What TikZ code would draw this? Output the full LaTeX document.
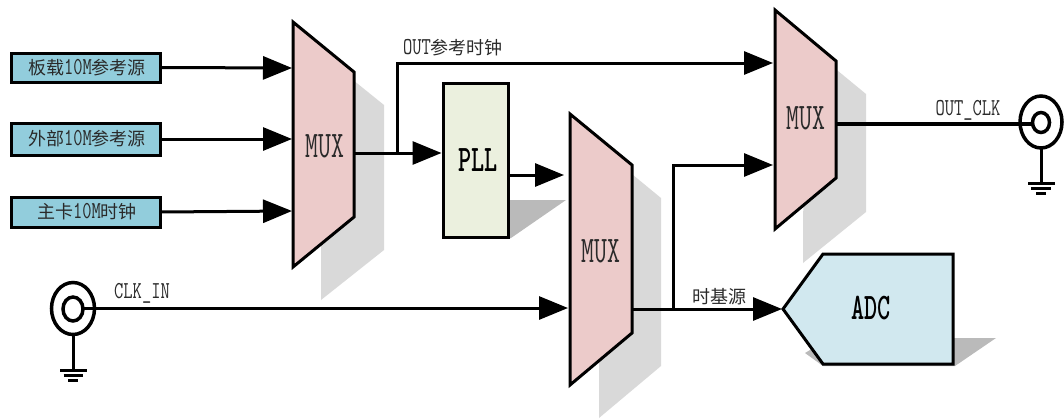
\documentclass[tikz,border=0pt]{standalone}
\usepackage{graphicx}
\usepackage{fontspec}
\newfontfamily\cjk{Noto Sans CJK SC}
\usetikzlibrary{arrows.meta}
\definecolor{srcfill}{HTML}{92CDDC}
\definecolor{muxfill}{HTML}{ECCBCA}
\definecolor{pllfill}{HTML}{EBF0DE}
\definecolor{adcfill}{HTML}{D1E8EF}
\definecolor{shadelight}{HTML}{D9D9D9}
\definecolor{shadedark}{HTML}{BABABA}
\definecolor{inktext}{HTML}{2A2A2A}
\newcommand{\cntxt}[1]{{\cjk\fontsize{18}{18}\selectfont #1}}
\newcommand{\latxt}[1]{\scalebox{1}[1.35]{\ttfamily\fontsize{18}{18}\selectfont #1}}
\newcommand{\bigtxt}[1]{\scalebox{1}[1.5]{\ttfamily\fontsize{25}{25}\selectfont #1}}
\newcommand{\bigbold}[1]{\scalebox{1}[1.5]{\ttfamily\bfseries\fontsize{25}{25}\selectfont #1}}
\tikzset{
  x=1pt,y=-1pt,
  edge/.style={line width=3pt,line join=miter},
  conn/.style={edge,-{Triangle[length=29pt,width=23pt]}},
  outline/.style={draw=black,line width=3pt,line join=miter},
  srcbox/.style={outline,fill=srcfill,minimum width=149pt,minimum height=29pt,inner sep=0pt,outer sep=0pt,text=inktext},
  pllbox/.style={outline,fill=pllfill,minimum width=65pt,minimum height=154pt,inner sep=0pt,outer sep=0pt,text=black},
  label/.style={inner sep=0pt,text=inktext},
  coax/.style={line width=3.5pt,draw=black,fill=white},
  gnd/.style={line width=3pt}
}
\begin{document}
\begin{tikzpicture}
\useasboundingbox (0,0) rectangle (1064,418);
% shadows
\fill[shadelight] (322,55)--(384,105)--(384,250)--(321,300)--cycle;
\fill[shadelight] (599,147)--(661,198)--(661,366)--(599,418)--cycle;
\fill[shadelight] (804,43)--(866,94)--(866,212)--(803,263)--cycle;
\fill[shadedark] (508,200)--(566,200)--(511,238)--(508,238)--cycle;
\fill[shadedark] (996,338)--(955,366)--(823,366)--(805,353)--(830,338)--cycle;
% multiplexers
\draw[outline,fill=muxfill] (293,22)--(354,72)--(354,217)--(293,267)--cycle;
\draw[outline,fill=muxfill] (570,114)--(632,165)--(632,333)--(570,385)--cycle;
\draw[outline,fill=muxfill] (775,10)--(836,61)--(836,178)--(775,229)--cycle;
\node[label] (mux1) at (325,146) {\bigtxt{MUX}};
\node[label] (mux2) at (601,251) {\bigtxt{MUX}};
\node[label] (mux3) at (806,118) {\bigtxt{MUX}};
% ports
\coordinate (m1a) at (292,68);
\coordinate (m1b) at (292,139);
\coordinate (m1c) at (292,211);
\coordinate (m1o) at (354,153);
\coordinate (m2a) at (564,175);
\coordinate (m2b) at (568,308);
\coordinate (m2o) at (632,309);
\coordinate (m3a) at (773,63);
\coordinate (m3b) at (773,165);
\coordinate (m3o) at (836,124);
\coordinate (j1) at (397,153);
\coordinate (j2) at (673.5,309);
% source boxes
\node[srcbox] (b1) at (85.5,67.5) {\hspace{3pt}\cntxt{板载}\latxt{10M}\cntxt{参考源}};
\node[srcbox,minimum height=32pt] (b2) at (85.5,139) {\hspace{3pt}\cntxt{外部}\latxt{10M}\cntxt{参考源}};
\node[srcbox,minimum height=30pt] (b3) at (85.5,212) {\hspace{3pt}\cntxt{主卡}\latxt{10M}\cntxt{时钟}};
% PLL
\node[pllbox] (pll) at (475.5,160) {\hspace{5pt}\bigbold{PLL}};
% ADC
\draw[outline,fill=adcfill] (783,309)--(823,254)--(953,254)--(953,364)--(823,364)--cycle;
\node[label,text=black] (adc) at (871,308) {\bigbold{ADC}};
\coordinate (adctip) at (782,309);
% coax connectors
\draw[coax] (73,308.5) ellipse [x radius=21.5,y radius=26];
\draw[coax] (73,309) ellipse [x radius=10,y radius=12];
\coordinate (cin) at (83,308);
\coordinate (cing) at (73,335);
\coordinate (cinb) at (73,370);
\draw[coax] (1041,122) ellipse [x radius=21,y radius=26];
\draw[coax] (1041,122.5) ellipse [x radius=8.5,y radius=10];
\coordinate (cout) at (1032,124);
\coordinate (coutg) at (1041,148);
\coordinate (coutb) at (1041,183);
\draw[gnd] (cing)--(cinb);
\draw[gnd] (60,370)--(87,370) (63.5,375)--(83,375) (68,380)--(78,380);
\draw[gnd] (coutg)--(coutb);
\draw[gnd] (1028,183)--(1054.5,183) (1031,188)--(1051,188) (1036,193)--(1046,193);
% connectors
\draw[conn] (b1.east)--(m1a);
\draw[conn] (b2.east)--(m1b);
\draw[conn] (b3.east)--(m1c);
\draw[conn,shorten >=1.5pt] (m1o)--(pll.west|-m1o);
\draw[conn] (j1)--(j1|-m3a)--(m3a);
\draw[conn] (pll.east|-m2a)--(m2a);
\draw[conn] (cin)--(m2b);
\draw[conn] (m2o)--(adctip);
\draw[conn] (j2)--(j2|-m3b)--(m3b);
\draw[edge,line width=4pt] (m3o)--(cout);
% labels
\node[label] (l1) at (453,48) {\latxt{OUT}\cntxt{参考时钟}};
\node[label] (l2) at (142,293) {\latxt{CLK\_IN}};
\node[label] (l3) at (968,110) {\latxt{OUT\_CLK}};
\node[label] (l4) at (719.5,297) {\cntxt{时基源}};
\end{tikzpicture}
\end{document}
